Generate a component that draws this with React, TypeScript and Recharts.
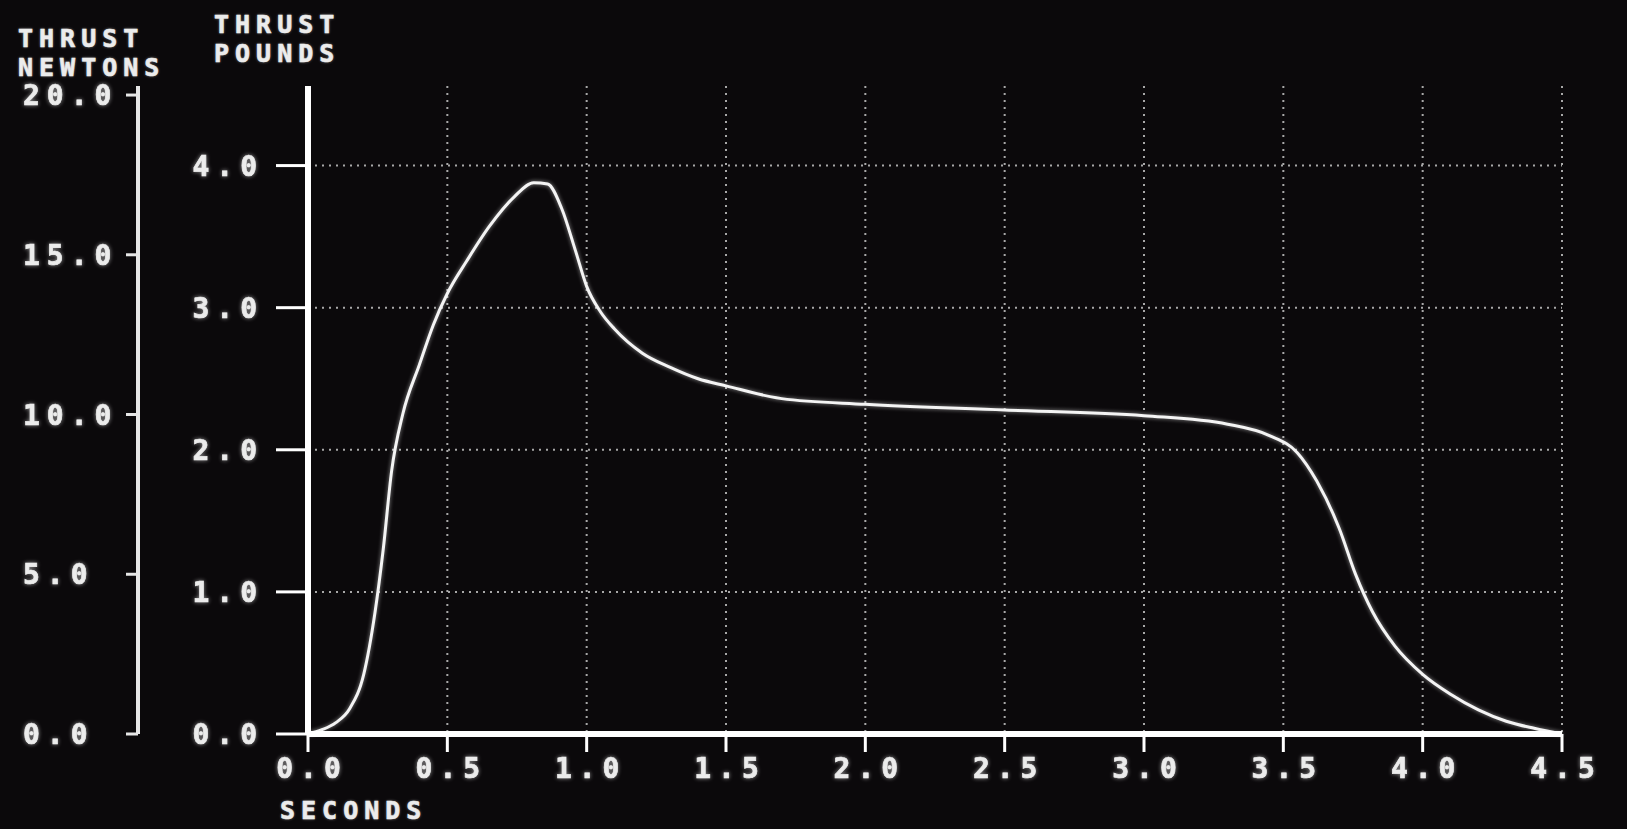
import React from "react";
import { LineChart, Line, XAxis, YAxis, CartesianGrid } from "recharts";

const seconds = [0, 0.05, 0.1, 0.15, 0.2, 0.24, 0.27, 0.3, 0.34, 0.4, 0.45, 0.5, 0.57, 0.65, 0.74, 0.81, 0.86, 0.91, 0.96, 1.0, 1.05, 1.1, 1.2, 1.3, 1.4, 1.5, 1.7, 2.0, 2.5, 3.0, 3.3, 3.45, 3.55, 3.62, 3.7, 3.76, 3.82, 3.9, 4.0, 4.1, 4.2, 4.3, 4.4, 4.5];
const thrustPounds = [0, 0.03, 0.08, 0.18, 0.42, 0.85, 1.3, 1.85, 2.25, 2.6, 2.88, 3.1, 3.33, 3.57, 3.78, 3.88, 3.87, 3.7, 3.4, 3.15, 2.97, 2.85, 2.68, 2.58, 2.5, 2.45, 2.36, 2.32, 2.28, 2.24, 2.18, 2.1, 1.98, 1.78, 1.45, 1.12, 0.86, 0.62, 0.42, 0.28, 0.17, 0.09, 0.04, 0];

const secondTicks = [0, 0.5, 1, 1.5, 2, 2.5, 3, 3.5, 4, 4.5];
const poundTicks = [0, 1, 2, 3, 4];
const newtonTicks = [0, 5, 10, 15, 20];

const data = seconds.map((t, i) => ({ t, lb: thrustPounds[i] }));

const LB_MAX = 4.56;
const N_MAX = LB_MAX * 4.448;

const FONT = '"DejaVu Sans Mono", monospace';
const TXT = "#ececec";
const glow = "drop-shadow(0 0 2px rgba(255,255,255,0.55))";

const textProps = {
  fill: TXT,
  stroke: TXT,
  strokeWidth: 0.7,
  fontFamily: FONT,
  fontWeight: "bold" as const,
  fontSize: 28,
  letterSpacing: 7,
  style: { filter: glow },
};

const NewtonTick = (props: any) => {
  const { x, y, payload } = props;
  return (
    <text x={x - 97} y={y} dy="0.36em" textAnchor="start" {...textProps}>
      {Number(payload.value).toFixed(1)}
    </text>
  );
};

const PoundTick = (props: any) => {
  const { x, y, payload } = props;
  return (
    <text x={x} y={y} dy="0.36em" textAnchor="end" {...textProps}>
      {Number(payload.value).toFixed(1)}
    </text>
  );
};

const SecondTick = (props: any) => {
  const { x, y, payload } = props;
  return (
    <text x={x + 4} y={y} dy="0.8em" textAnchor="middle" {...textProps}>
      {Number(payload.value).toFixed(1)}
    </text>
  );
};

const titleStyle: React.CSSProperties = {
  position: "absolute",
  color: TXT,
  fontFamily: FONT,
  fontWeight: "bold",
  fontSize: 25,
  letterSpacing: 6,
  lineHeight: "29px",
  whiteSpace: "pre",
  WebkitTextStroke: "0.6px #ececec",
  textShadow: "0 0 3px rgba(255,255,255,0.5)",
};

export default function App() {
  return (
    <div style={{ position: "relative", width: 1627, height: 829, background: "#0b090b", overflow: "hidden" }}>
      <style>{`html,body{margin:0;padding:0;background:#0b090b;overflow:hidden;}`}</style>
      <LineChart width={1627} height={829} data={data} margin={{ top: 86, right: 65, bottom: 0, left: 0 }}>
        <CartesianGrid yAxisId="lb" stroke="#a8a8a8" strokeWidth={2} strokeDasharray="2 5" horizontalValues={poundTicks} verticalValues={secondTicks} />
        <XAxis
          dataKey="t"
          type="number"
          domain={[0, 4.5]}
          ticks={secondTicks}
          interval={0}
          height={95}
          axisLine={{ stroke: "#ffffff", strokeWidth: 6 }}
          tickLine={{ stroke: "#ffffff", strokeWidth: 3 }}
          tickSize={18}
          tickMargin={4}
          tick={<SecondTick />}
        />
        <YAxis
          yAxisId="lb"
          type="number"
          domain={[0, LB_MAX]}
          ticks={poundTicks}
          interval={0}
          width={170}
          axisLine={{ stroke: "#ffffff", strokeWidth: 6 }}
          tickLine={{ stroke: "#ffffff", strokeWidth: 3 }}
          tickSize={32}
          tickMargin={12}
          tick={<PoundTick />}
        />
        <YAxis
          yAxisId="nt"
          type="number"
          domain={[0, N_MAX]}
          allowDataOverflow
          ticks={newtonTicks}
          interval={0}
          width={138}
          axisLine={{ stroke: "#e6e6e6", strokeWidth: 4 }}
          tickLine={{ stroke: "#e6e6e6", strokeWidth: 3 }}
          tickSize={12}
          tickMargin={6}
          tick={<NewtonTick />}
        />
        <Line yAxisId="lb" dataKey="lb" type="monotone" dot={false} stroke="#f4f4f4" strokeWidth={3} isAnimationActive={false} style={{ filter: glow }} />
      </LineChart>
      <div style={{ ...titleStyle, left: 18, top: 24 }}>{"THRUST\nNEWTONS"}</div>
      <div style={{ ...titleStyle, left: 214, top: 10 }}>{"THRUST\nPOUNDS"}</div>
      <div style={{ ...titleStyle, left: 280, top: 796 }}>{"SECONDS"}</div>
    </div>
  );
}
